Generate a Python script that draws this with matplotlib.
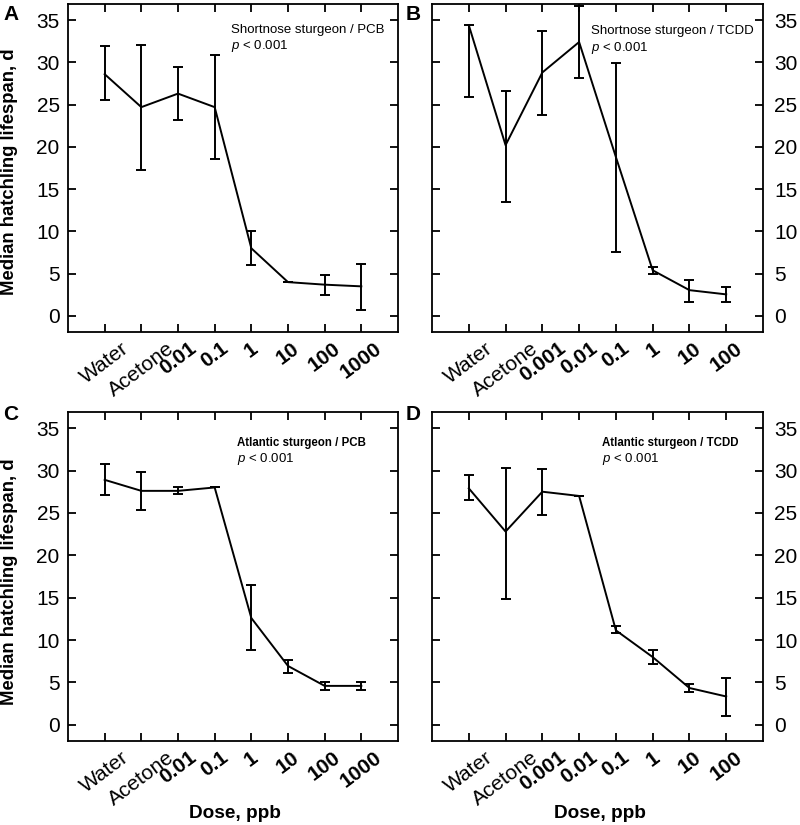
import matplotlib
matplotlib.use("Agg")
import matplotlib.pyplot as plt
import numpy as np

plt.rcParams['font.family'] = ['Liberation Sans', 'DejaVu Sans']
plt.rcParams['mathtext.fontset'] = 'custom'
plt.rcParams['mathtext.rm'] = 'Liberation Sans'
plt.rcParams['mathtext.it'] = 'Liberation Sans:italic'

# ---- data ----
labels_pcb = ["Water", "Acetone", "0.01", "0.1", "1", "10", "100", "1000"]
labels_tcdd = ["Water", "Acetone", "0.001", "0.01", "0.1", "1", "10", "100"]

# Panel A: Shortnose sturgeon / PCB
a_mean = [28.6, 24.7, 26.3, 24.7, 8.0, 4.0, 3.7, 3.5]
a_low = [25.5, 17.3, 23.2, 18.6, 6.0, 4.0, 2.5, 0.7]
a_high = [31.9, 32.1, 29.5, 30.9, 10.0, 4.0, 4.8, 6.2]

# Panel B: Shortnose sturgeon / TCDD
b_mean = [34.4, 20.2, 28.8, 32.4, 18.8, 5.4, 3.05, 2.55]
b_low = [25.9, 13.5, 23.8, 28.2, 7.6, 5.0, 1.7, 1.6]
b_high = [34.4, 26.6, 33.7, 36.7, 29.9, 5.75, 4.3, 3.45]

# Panel C: Atlantic sturgeon / PCB
c_mean = [28.9, 27.6, 27.6, 28.0, 12.6, 6.95, 4.6, 4.6]
c_low = [27.1, 25.4, 27.2, 28.0, 8.8, 6.15, 4.1, 4.1]
c_high = [30.8, 29.8, 28.1, 28.0, 16.5, 7.7, 5.1, 5.1]

# Panel D: Atlantic sturgeon / TCDD
d_mean = [27.9, 22.8, 27.5, 27.0, 11.15, 8.0, 4.35, 3.35]
d_low = [26.5, 14.9, 24.7, 27.0, 10.8, 7.2, 3.9, 1.1]
d_high = [29.5, 30.35, 30.15, 27.0, 11.7, 8.8, 4.8, 5.55]

titles = ["Shortnose sturgeon / PCB", "Shortnose sturgeon / TCDD",
          "Atlantic sturgeon / PCB", "Atlantic sturgeon / TCDD"]
letters = ["A", "B", "C", "D"]
yticks = [0, 5, 10, 15, 20, 25, 30, 35]

W, H = 800, 825
fig = plt.figure(figsize=(W / 100, H / 100), dpi=100)


def rect(x0, y0, x1, y1):
    return [x0 / W, (H - y1) / H, (x1 - x0) / W, (y1 - y0) / H]


panels = [
    (rect(68, 4, 398, 332), labels_pcb, a_mean, a_low, a_high, 'left', 0),
    (rect(432, 4, 763, 332), labels_tcdd, b_mean, b_low, b_high, 'right', 1),
    (rect(68, 412, 398, 741), labels_pcb, c_mean, c_low, c_high, 'left', 2),
    (rect(432, 412, 763, 741), labels_tcdd, d_mean, d_low, d_high, 'right', 3),
]

for r, labs, m, lo, hi, side, i in panels:
    ax = fig.add_axes(r)
    x = np.arange(len(labs))
    m = np.array(m); lo = np.array(lo); hi = np.array(hi)
    yerr = np.vstack([m - lo, hi - m])
    ax.errorbar(x, m, yerr=yerr, color='black', lw=1.4, elinewidth=1.4,
                capsize=3.5, capthick=1.4)
    ax.set_xlim(-1, 8)
    ax.set_ylim(-1.9, 36.9)
    ax.set_xticks(x)
    ax.set_xticklabels(labs, rotation=37, ha='center', fontsize=11.5)
    for t in ax.get_xticklabels():
        if t.get_text() not in ("Water", "Acetone"):
            t.set_fontweight('bold')
    ax.set_yticks(yticks)
    ax.tick_params(direction='in', length=6, width=1.3, top=True, right=True,
                   labelsize=15)
    ax.tick_params(axis='x', pad=5)
    if side == 'right':
        ax.tick_params(axis='y', labelleft=False, labelright=True, pad=8)
    else:
        ax.tick_params(axis='y', pad=6)
    for s in ax.spines.values():
        s.set_linewidth(1.3)
    bold = i >= 2
    tx = [0.494, 0.48, 0.512, 0.514][i]
    ty = [0.94, 0.935, 0.925, 0.925][i]
    ax.text(tx, ty, titles[i], transform=ax.transAxes, va='top', ha='left',
            fontsize=8.3 if bold else 9.5,
            fontweight='bold' if bold else 'normal')
    ax.text(tx, ty - 0.045, r"$\it{p}$ < 0.001", transform=ax.transAxes,
            va='top', ha='left', fontsize=9.5)

# panel letters
for lt, (px, py) in zip(letters, [(3, 5), (406, 5), (3, 405), (406, 405)]):
    fig.text(px / W, 1 - py / H, lt, fontsize=15, fontweight='bold',
             va='top', ha='left')

# y labels
for cy in [172, 582]:
    fig.text(10 / W, 1 - cy / H, "Median hatchling lifespan, d", rotation=90,
             va='center', ha='center', fontsize=13.3, fontweight='bold')

# x labels
for cx in [235, 600]:
    fig.text(cx / W, 1 - 813 / H, "Dose, ppb", va='center', ha='center',
             fontsize=13.7, fontweight='bold')

fig.savefig("out.png", dpi=100)
